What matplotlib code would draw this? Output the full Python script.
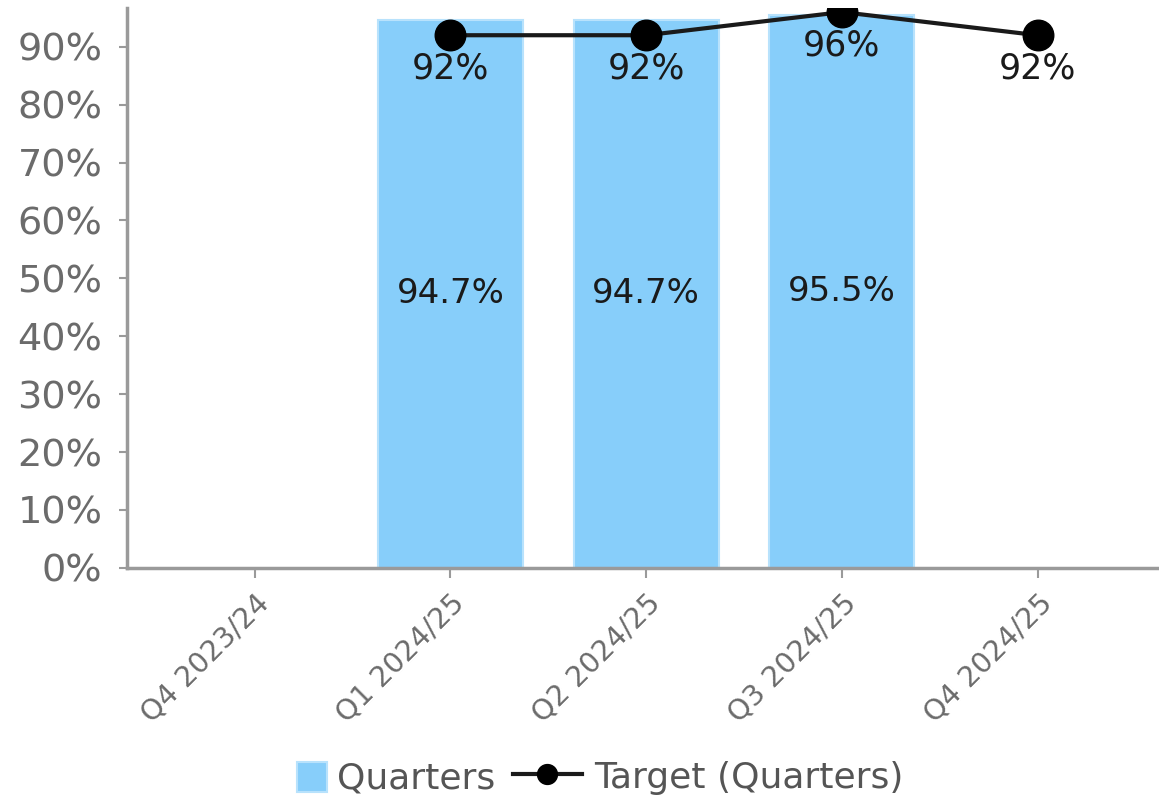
import numpy as np
import matplotlib
matplotlib.use("Agg")
import matplotlib.pyplot as plt
from matplotlib.transforms import ScaledTranslation
from matplotlib.patches import Rectangle
from matplotlib.legend_handler import HandlerPatch

# ==============================
# DATA
# ==============================

quarters = ["Q4 2023/24", "Q1 2024/25", "Q2 2024/25", "Q3 2024/25", "Q4 2024/25"]
actual = [np.nan, 94.7, 94.7, 95.5, np.nan]
target = [np.nan, 92, 92, 96, 92]

bar_color = "#87CEFA"
grey = "#6b6b6b"

# ==============================
# FIGURE
# ==============================

fig = plt.figure(figsize=(11.59, 8.02), dpi=100)
ax = fig.add_axes([0.110, 0.292, 0.890, 0.698])

x = np.arange(len(quarters))

bars = ax.bar(x, actual, width=0.74, color=bar_color, edgecolor="#b8e2fc",
              linewidth=1.5, label="Quarters", zorder=2)
line, = ax.plot(x, target, color="#1a1a1a", linewidth=3, marker="o",
                markersize=22, markerfacecolor="black",
                markeredgecolor="black", label="Target (Quarters)", zorder=3)

# bar labels in the middle of each bar
for xi, v in zip(x, actual):
    if not np.isnan(v):
        ax.text(xi, v / 2, f"{v:.1f}%", ha="center", va="center",
                fontsize=24.5, color="#1a1a1a", zorder=4)

# target labels under the markers
for xi, v in zip(x, target):
    if not np.isnan(v):
        ax.annotate(f"{v:.0f}%", (xi, v), xytext=(0, -24),
                    textcoords="offset points", ha="center", va="center",
                    fontsize=25, color="#1a1a1a", zorder=4)

# ==============================
# AXES STYLE
# ==============================

ax.set_xlim(-0.65, 4.62)
ax.set_ylim(0, 96.7)
ax.set_yticks(np.arange(0, 100, 10))
ax.set_yticklabels([f"{t}%" for t in range(0, 100, 10)])
ax.set_xticks(x)
ax.set_xticklabels(quarters, rotation=45, ha="right", rotation_mode="anchor")

shift = ScaledTranslation(0.20, -0.02, fig.dpi_scale_trans)
for lbl in ax.get_xticklabels():
    lbl.set_transform(lbl.get_transform() + shift)

for side in ["top", "right"]:
    ax.spines[side].set_visible(False)
for side in ["left", "bottom"]:
    ax.spines[side].set_color("#9a9a9a")
    ax.spines[side].set_linewidth(2.5)

ax.tick_params(axis="y", colors="#9a9a9a", labelcolor=grey, labelsize=27.5,
               length=6, width=1.5, pad=12)
ax.tick_params(axis="x", colors="#9a9a9a", labelcolor=grey, labelsize=20.5,
               length=7, width=1.5, pad=8)

# ==============================
# LEGEND
# ==============================

def square_patch(legend, orig_handle, xdescent, ydescent, width, height, fontsize):
    side = height * 0.92
    return Rectangle((width - side + 2, -ydescent), side, side)

fig.legend([bars[1], line], ["Quarters", "Target (Quarters)"],
           loc="lower center", bbox_to_anchor=(0.5, -0.032), ncol=2,
           frameon=False, fontsize=26, labelcolor="#555555",
           handlelength=1.9, handleheight=1.0, handletextpad=0.35,
           columnspacing=0.5, markerscale=0.65,
           handler_map={Rectangle: HandlerPatch(patch_func=square_patch)})
leg = fig.legends[0]
leg.legend_handles[1].set_linewidth(3)

fig.savefig("out.png", dpi=100)
